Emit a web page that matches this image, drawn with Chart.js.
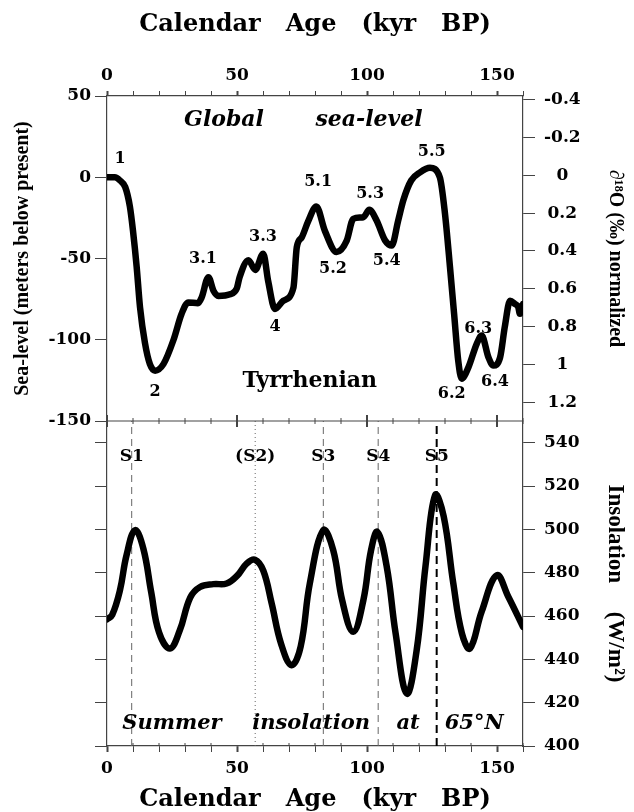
<!DOCTYPE html>
<html>
<head>
<meta charset="utf-8">
<script src="https://cdn.jsdelivr.net/npm/chart.js@4.4.1/dist/chart.umd.min.js"></script>
<style>
  body { margin: 0; background: #fff; }
  canvas { display: block; }
</style>
</head>
<body>
<canvas id="myChart" width="634" height="812"></canvas>
<script>
// sea-level curve (kyr BP, metres)
var seaAge = [0, 3, 5, 7, 8.8, 10, 11.4, 12.7, 14.6, 16.5, 18.5, 21.7, 25.6, 28.7, 31.3, 35, 36.4, 39, 41, 42.8,
  47.3, 49.9, 51, 54.4, 57, 60.1, 62, 64.6, 67.8, 71.7, 73, 74.9, 77.4, 80.5, 83.8, 88.3, 92.2, 94.7, 98.6, 100.9,
  103.7, 107, 109.5, 112, 114, 117, 120.4, 124.2, 128, 130, 131.9, 133.5, 135.1, 136.4, 139, 142.2, 144.1, 146.7,
  148.6, 151.2, 153, 155, 156.9, 158.2, 158.8, 160]
var seaLevel = [0, 0, -2, -6, -18, -33, -55, -80, -102, -115, -119, -115, -100, -84, -77, -77.5, -74, -61.5, -70, -73,
  -72, -68.5, -61.5, -51, -57, -47, -64, -81, -76, -68, -43, -37, -27, -18, -33, -46, -39, -25.6, -24.6, -20,
  -26.6, -39, -42, -26.6, -14, -2, 3, 5.8, 0, -22.5, -55, -84, -113, -124, -117, -102.5, -97.4, -110.8,
  -115.9, -110.8, -92, -76, -78, -80, -84, -78]

// summer insolation at 65N (kyr BP, W/m2)
var insAge = [0, 2, 5, 7.5, 10.8, 14, 17, 20, 24.2, 28, 32, 35.8, 40.9, 46, 50, 53.7, 56.9, 60.1, 63.3,
  67, 71, 74.5, 78, 83.2, 87, 90.5, 94.7, 98.6, 101.5, 104, 107.6, 111, 115.3, 119.1, 122.5, 126.2,
  129.5, 133.2, 136.5, 139.6, 144.1, 149.9, 154.3, 160]
var insol = [458.5, 460.5, 472, 488, 499.6, 491, 471, 452.5, 445, 453.4, 468.5, 473.4, 474.7, 475, 478.5,
  484.2, 486, 481, 466, 447, 437.3, 446, 475, 499.6, 490.4, 467, 452.7, 467.3, 490, 498.8, 482.7, 452, 424.2,
  444.2, 483, 515.8, 506, 475, 452, 445, 462, 478.8, 469, 455]

// insolation maxima markers
var sName = ['S1', '(S2)', 'S3', 'S4', 'S5']
var sAge = [9.5, 57, 83.2, 104.3, 126.8]

// isotope stage labels
var stageName = ['1', '2', '3.1', '3.3', '4', '5.1', '5.2', '5.3', '5.4', '5.5', '6.2', '6.3', '6.4']
var stageAge = [5, 18.5, 36.9, 60, 64.6, 81.2, 86.9, 101.2, 107.6, 124.9, 132.6, 142.8, 149.2]
var stageSea = [11.5, -132.3, -50, -36.9, -92.3, -3.1, -56.2, -10.2, -51.3, 15.4, -133.3, -93.3, -126.2]

// tick labels
var ageLabels = [0, 50, 100, 150]
var seaTicks = [50, 0, -50, -100, -150]
var o18Ticks = [-0.4, -0.2, 0, 0.2, 0.4, 0.6, 0.8, 1, 1.2]
var insTicks = [400, 420, 440, 460, 480, 500, 520, 540]

var serif = "'DejaVu Serif', serif"
var times = "'Liberation Serif', 'Times New Roman', serif"
var axisCol = '#444'
var tickFont = {family: serif, size: 17, weight: 'bold'}

function setTicks(list) {
    return function (s) { s.ticks = list.map(v => ({value: v})) }
}

var zip = (xs, ys) => xs.map((x, i) => ({x: x, y: ys[i]}))

var datasets = [
    {data: zip(seaAge, seaLevel), yAxisID: 'ySea', borderColor: '#000', borderWidth: 6.5,
        cubicInterpolationMode: 'monotone', pointRadius: 0, borderJoinStyle: 'round', borderCapStyle: 'round'},
    {data: zip(insAge, insol), yAxisID: 'yIns', borderColor: '#000', borderWidth: 6.5,
        tension: 0.4, pointRadius: 0, borderJoinStyle: 'round', borderCapStyle: 'round'}
]
sAge.forEach((a, i) => {
    var last = i == sAge.length - 1
    datasets.push({
        data: [{x: a, y: 400}, {x: a, y: 550}], yAxisID: 'yIns', pointRadius: 0,
        borderColor: last ? '#000' : '#666', borderWidth: last ? 2 : 1,
        borderDash: i == 1 ? [1, 3] : (last ? [8, 5] : [7, 5])
    })
})

var decor = {
    id: 'decor',
    afterDraw(chart) {
        var ctx = chart.ctx
        var x = chart.scales.x, ySea = chart.scales.ySea, yIns = chart.scales.yIns
        var yMid = ySea.bottom
        ctx.save()
        ctx.strokeStyle = axisCol
        ctx.lineWidth = 1.2
        ctx.beginPath(); ctx.moveTo(x.left, yMid); ctx.lineTo(x.right, yMid); ctx.stroke()
        x.ticks.forEach(t => {
            var px = x.getPixelForValue(t.value)
            var major = t.value % 50 == 0
            var h = major ? 6 : 3
            ctx.lineWidth = major ? 2 : 1
            ctx.beginPath(); ctx.moveTo(px, yMid - h); ctx.lineTo(px, yMid + h); ctx.stroke()
            if (!major) {
                ctx.beginPath(); ctx.moveTo(px, x.top); ctx.lineTo(px, x.top - 3); ctx.stroke()
            }
        })

        ctx.fillStyle = '#000'
        ctx.textAlign = 'center'
        ctx.textBaseline = 'middle'
        function put(s, ax, ay, font) {
            ctx.font = font
            ctx.fillText(s, x.getPixelForValue(ax), ay)
        }
        stageName.forEach((s, i) => put(s, stageAge[i], ySea.getPixelForValue(stageSea[i]), 'bold 16px ' + serif))
        put('Global', 45, ySea.getPixelForValue(34.9), 'italic bold 22px ' + serif)
        put('sea-level', 100.8, ySea.getPixelForValue(34.9), 'italic bold 22px ' + serif)
        put('Tyrrhenian', 78, ySea.getPixelForValue(-125.7), 'bold 22px ' + serif)
        sName.forEach((s, i) => put(s, sAge[i], yIns.getPixelForValue(533.5), 'bold 17px ' + serif))
        var words = ['Summer', 'insolation', 'at', '65°N']
        var wordAge = [25, 78.5, 115.8, 141.2]
        words.forEach((w, i) => put(w, wordAge[i], yIns.getPixelForValue(410.3), 'italic bold 21px ' + serif))
        ctx.restore()
    }
}

var gridOpts = {drawOnChartArea: false, drawTicks: true, color: axisCol, lineWidth: 1}
var ageGrid = Object.assign({}, gridOpts, {tickLength: 5, tickWidth: c => (c.tick && c.tick.value % 50 == 0) ? 2 : 1})
var ageTickOpts = {
    stepSize: 10, autoSkip: false, maxRotation: 0, font: tickFont, color: '#000',
    callback: v => ageLabels.includes(v) ? String(v) : ''
}
var ageTitle = {display: true, text: 'Calendar   Age   (kyr   BP)', color: '#000',
    font: {family: serif, size: 24, weight: 'bold', lineHeight: 1}}

var ctx = document.getElementById('myChart').getContext('2d');
var myChart = new Chart(ctx, {
    type: 'line',
    data: {datasets: datasets},
    plugins: [decor],
    options: {
        responsive: false,
        animation: false,
        layout: {padding: 0},
        plugins: {legend: {display: false}, tooltip: {enabled: false}},
        scales: {
            x: {
                type: 'linear', position: 'bottom', min: 0, max: 160,
                grid: Object.assign({}, ageGrid, {tickLength: 6}),
                border: {color: axisCol, width: 1.2},
                ticks: Object.assign({}, ageTickOpts, {padding: 6}),
                title: Object.assign({}, ageTitle, {padding: {top: 0, bottom: 0}}),
                afterFit: s => { s.height = 66 }
            },
            x2: {
                type: 'linear', position: 'top', min: 0, max: 160,
                grid: ageGrid,
                border: {color: axisCol, width: 1.2},
                ticks: Object.assign({}, ageTickOpts, {padding: 5}),
                title: Object.assign({}, ageTitle, {padding: {top: 12.5, bottom: 0}}),
                afterFit: s => { s.height = 96 }
            },
            ySea: {
                type: 'linear', position: 'left', stack: 'L', weight: 2, min: -150, max: 50,
                afterBuildTicks: setTicks(seaTicks),
                grid: Object.assign({}, gridOpts, {tickLength: 12}),
                border: {color: axisCol, width: 1.2},
                ticks: {font: tickFont, color: '#000', padding: 4, callback: v => String(v)},
                title: {display: true, text: 'Sea-level (meters below present)', color: '#000',
                    font: {family: times, size: 20, weight: 'bold', lineHeight: 1.2}, padding: {top: 11, bottom: 0}},
                afterFit: s => { s.width = 107 }
            },
            yInsL: {
                type: 'linear', position: 'left', stack: 'L', weight: 1, min: 400, max: 550,
                afterBuildTicks: setTicks(insTicks),
                grid: Object.assign({}, gridOpts, {tickLength: 12}),
                border: {color: axisCol, width: 1.2},
                ticks: {font: tickFont, padding: 4, callback: v => ''},
                afterFit: s => { s.width = 107 }
            },
            yO18: {
                type: 'linear', position: 'right', stack: 'R', weight: 1, min: -0.42, max: 1.3, reverse: true,
                afterBuildTicks: setTicks(o18Ticks),
                grid: Object.assign({}, gridOpts, {tickLength: 12}),
                border: {color: axisCol, width: 1.2},
                ticks: {font: tickFont, color: '#000', padding: 9, crossAlign: 'center',
                    callback: v => String(Math.round(v * 10) / 10)},
                title: {display: true, text: '\u2202\u00B9\u2078O (\u2030) normalized', color: '#000',
                    font: {family: times, size: 20, weight: 'bold', lineHeight: 1.2}, padding: {top: 7, bottom: 0}},
                afterFit: s => { s.width = 111 }
            },
            yIns: {
                type: 'linear', position: 'right', stack: 'R', weight: 2, min: 400, max: 550,
                afterBuildTicks: setTicks(insTicks),
                grid: Object.assign({}, gridOpts, {tickLength: 12}),
                border: {color: axisCol, width: 1.2},
                ticks: {font: tickFont, color: '#000', padding: 9, crossAlign: 'center', callback: v => String(v)},
                title: {display: true, text: 'Insolation     (W/m\u00B2)', color: '#000',
                    font: {family: times, size: 23, weight: 'bold', lineHeight: 1.2}, padding: {top: 5, bottom: 0}},
                afterFit: s => { s.width = 111 }
            }
        }
    }
});
</script>
</body>
</html>
